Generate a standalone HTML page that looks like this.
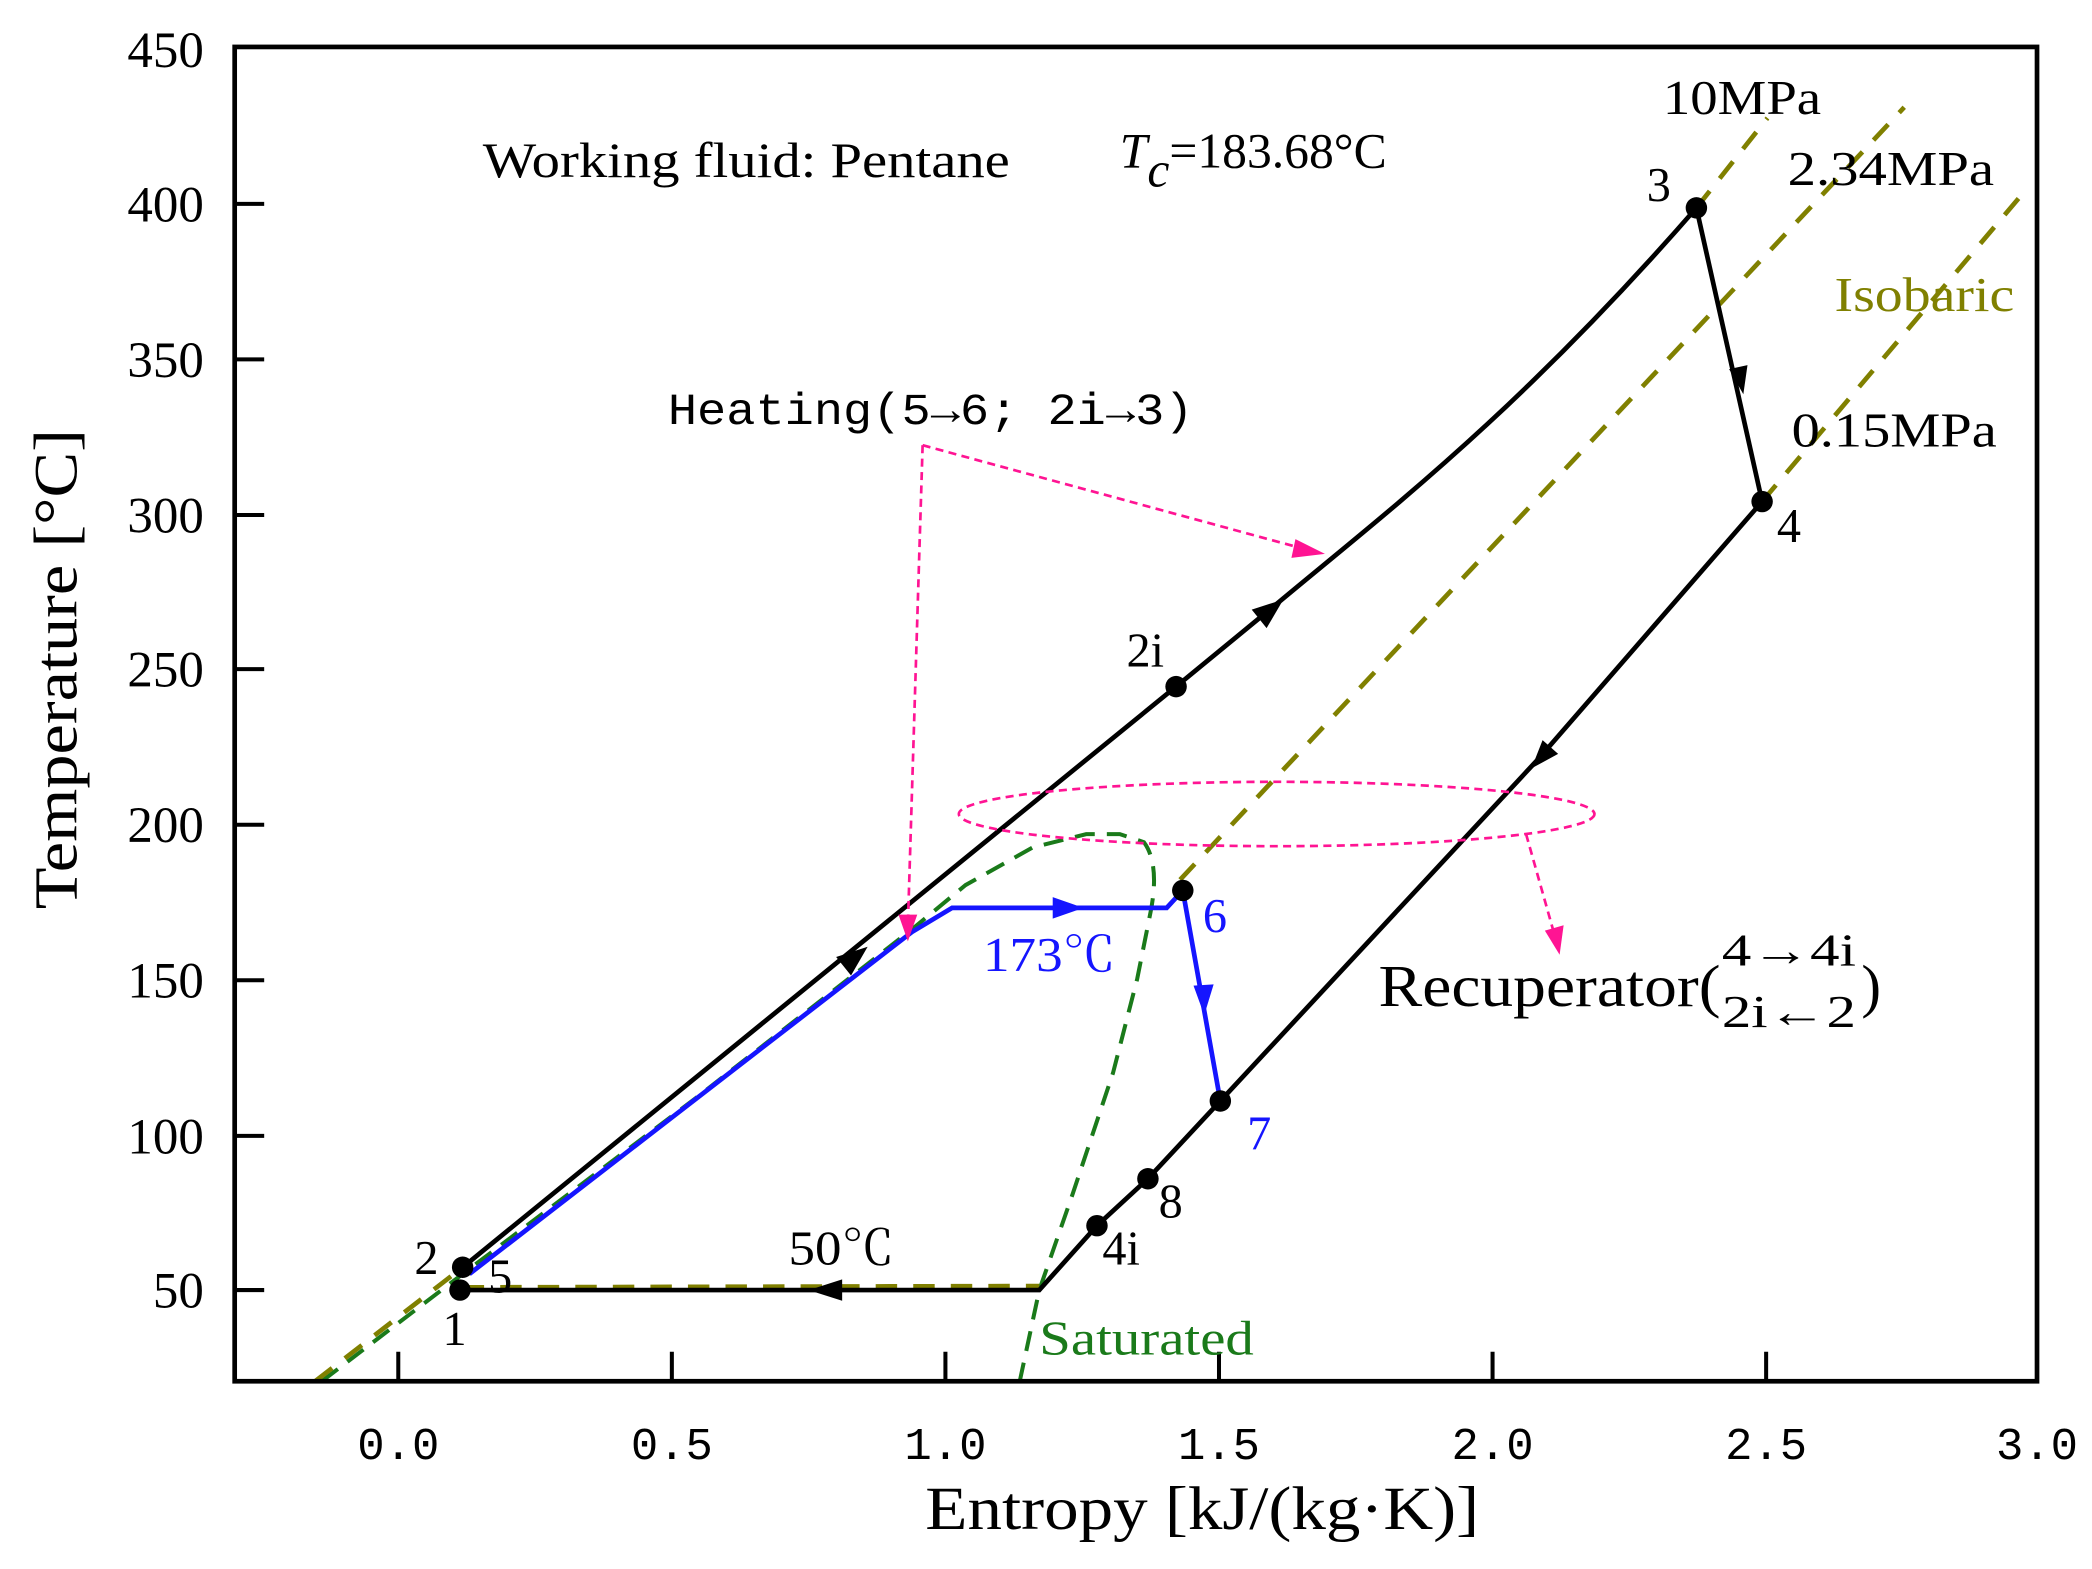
<!DOCTYPE html>
<html><head><meta charset="utf-8"><style>
html,body{margin:0;padding:0;background:#fff;}
svg{display:block;}
text{font-family:"Liberation Serif","Noto Serif CJK SC",serif;}
.m{font-family:"Liberation Mono","Noto Sans CJK SC",monospace;}
</style></head><body>
<svg width="2092" height="1569" viewBox="0 0 1560 1170" preserveAspectRatio="none" xmlns="http://www.w3.org/2000/svg">
<rect x="0" y="0" width="1560" height="1170" fill="#fff"/>
<!-- green saturation dome -->
<path d="M240,1030 L345,950 L520,818 L680,693 L720,660 L770,632 L810,622 L835,622 L853,628 C862,640 862,660 858,680 L848,730 L830,800 L800,890 L775,962 L760,1032" fill="none" stroke="#1a7a1a" stroke-width="3" stroke-dasharray="15,9"/>
<!-- olive isobars -->
<g fill="none" stroke="#808000" stroke-width="3.5" stroke-dasharray="16,12">
<path d="M235,1030 L345,945"/>
<path d="M345,960 L775,959"/>
<path d="M1265,155 L1318,88"/>
<path d="M880,656 L1420,80"/>
<path d="M1314,374 L1512,140"/>
</g>
<!-- black cycle -->
<g fill="none" stroke="#000" stroke-width="3.5">
<path d="M345,945 L877,512 L950,452 C1030,385 1130,310 1265,155"/>
<path d="M1265,155 L1314,374"/>
<path d="M1314,374 L1148,565 L910,821 L856,879 L818,914 L775,962 L343,962"/>
</g>
<!-- blue -->
<path d="M350,950 L680,695 L710,677 L870,677 L882,664 L910,821" fill="none" stroke="#1515ff" stroke-width="3.5"/>
<!-- arrows -->
<g fill="#000">
<path d="M647,706 L634.6,727.4 L623.5,713.6 z"/>
<path d="M957,447 L944.5,468.4 L933.4,454.6 z"/>
<path d="M1300,294 L1303.1,272.3 L1289.4,275.3 z"/>
<path d="M1142,573 L1161.9,562.2 L1150.3,551.9 z"/>
<path d="M603,962 L628,954 L628,970 z"/>
</g>
<g fill="#1515ff">
<path d="M808,677 L785,669 L785,685 z"/>
<path d="M898,757 L890,735 L905,734 z"/>
</g>
<!-- points -->
<g fill="#000">
<circle cx="343" cy="962" r="8"/><circle cx="345" cy="945" r="8"/>
<circle cx="877" cy="512" r="8"/><circle cx="1265" cy="155" r="8"/>
<circle cx="1314" cy="374" r="8"/><circle cx="910" cy="821" r="8"/>
<circle cx="856" cy="879" r="8"/><circle cx="818" cy="914" r="8"/>
<circle cx="882" cy="664" r="8"/>
</g>
<!-- pink annotations -->
<g fill="none" stroke="#ff1493" stroke-width="2" stroke-dasharray="6,4">
<path d="M688,332 L677,690"/>
<path d="M688,332 L975,410"/>
<ellipse cx="952" cy="607" rx="237" ry="24"/>
<path d="M1138,622 L1160,700"/>
</g>
<g fill="#ff1493">
<path d="M677,702 L670,682 L684,682 z"/>
<path d="M988,413 L966,402 L963,416 z"/>
<path d="M1163,712 L1152,694 L1166,690 z"/>
</g>
<!-- axes -->
<rect x="175" y="35" width="1344" height="995" fill="none" stroke="#000" stroke-width="3.5"/>
<g stroke="#000" stroke-width="3">
<path d="M297,1030 v-22 M501,1030 v-22 M705,1030 v-22 M909,1030 v-22 M1113,1030 v-22 M1317,1030 v-22"/>
<path d="M175,152 h22 M175,268 h22 M175,384 h22 M175,499 h22 M175,615 h22 M175,731 h22 M175,847 h22 M175,962 h22"/>
</g>
<g font-size="38" text-anchor="end">
<text x="152" y="50">450</text><text x="152" y="165">400</text><text x="152" y="281">350</text>
<text x="152" y="397">300</text><text x="152" y="512">250</text><text x="152" y="628">200</text>
<text x="152" y="744">150</text><text x="152" y="860">100</text><text x="152" y="975">50</text>
</g>
<g font-size="34" text-anchor="middle">
<text x="297" y="1088" class="m">0.0</text><text x="501" y="1088" class="m">0.5</text>
<text x="705" y="1088" class="m">1.0</text><text x="909" y="1088" class="m">1.5</text>
<text x="1113" y="1088" class="m">2.0</text><text x="1317" y="1088" class="m">2.5</text>
<text x="1519" y="1088" class="m">3.0</text>
</g>
<text x="690" y="1140" font-size="46" textLength="413" lengthAdjust="spacingAndGlyphs">Entropy [kJ/(kg·K)]</text>
<text transform="translate(57,678) rotate(-90)" font-size="46" textLength="358" lengthAdjust="spacingAndGlyphs">Temperature [°C]</text>
<!-- texts -->
<text x="360" y="132" font-size="37" textLength="393" lengthAdjust="spacingAndGlyphs">Working fluid: Pentane</text>
<text x="835" y="125" font-size="37"><tspan font-style="italic">T</tspan><tspan font-style="italic" dy="14">c</tspan><tspan dy="-14">=183.68°C</tspan></text>
<text x="498" y="316" font-size="33" class="m" textLength="392" lengthAdjust="spacingAndGlyphs">Heating(5→6; 2i→3)</text>
<g font-size="36">
<text x="1240" y="85" textLength="118" lengthAdjust="spacingAndGlyphs">10MPa</text>
<text x="1333" y="138" textLength="154" lengthAdjust="spacingAndGlyphs">2.34MPa</text>
<text x="1368" y="232" fill="#808000" textLength="134" lengthAdjust="spacingAndGlyphs">Isobaric</text>
<text x="1336" y="333" textLength="153" lengthAdjust="spacingAndGlyphs">0.15MPa</text>
<text x="1228" y="150">3</text><text x="1325" y="404">4</text><text x="840" y="497">2i</text>
<text x="897" y="695" fill="#1515ff">6</text>
<text x="733" y="724" fill="#1515ff" textLength="99" lengthAdjust="spacingAndGlyphs">173℃</text>
<text x="930" y="857" fill="#1515ff">7</text><text x="864" y="908">8</text><text x="822" y="943">4i</text>
<text x="309" y="950">2</text><text x="364" y="964">5</text><text x="330" y="1003">1</text>
<text x="588" y="943" textLength="79" lengthAdjust="spacingAndGlyphs">50℃</text>
<text x="775" y="1010" fill="#1a7a1a" textLength="160" lengthAdjust="spacingAndGlyphs">Saturated</text>
</g>
<text x="1028" y="750" font-size="44" textLength="255" lengthAdjust="spacingAndGlyphs">Recuperator(</text>
<text x="1284" y="720" font-size="34" textLength="100" lengthAdjust="spacingAndGlyphs">4→4i</text>
<text x="1284" y="766" font-size="34" textLength="100" lengthAdjust="spacingAndGlyphs">2i←2</text>
<text x="1388" y="750" font-size="44">)</text>
</svg>
</body></html>
